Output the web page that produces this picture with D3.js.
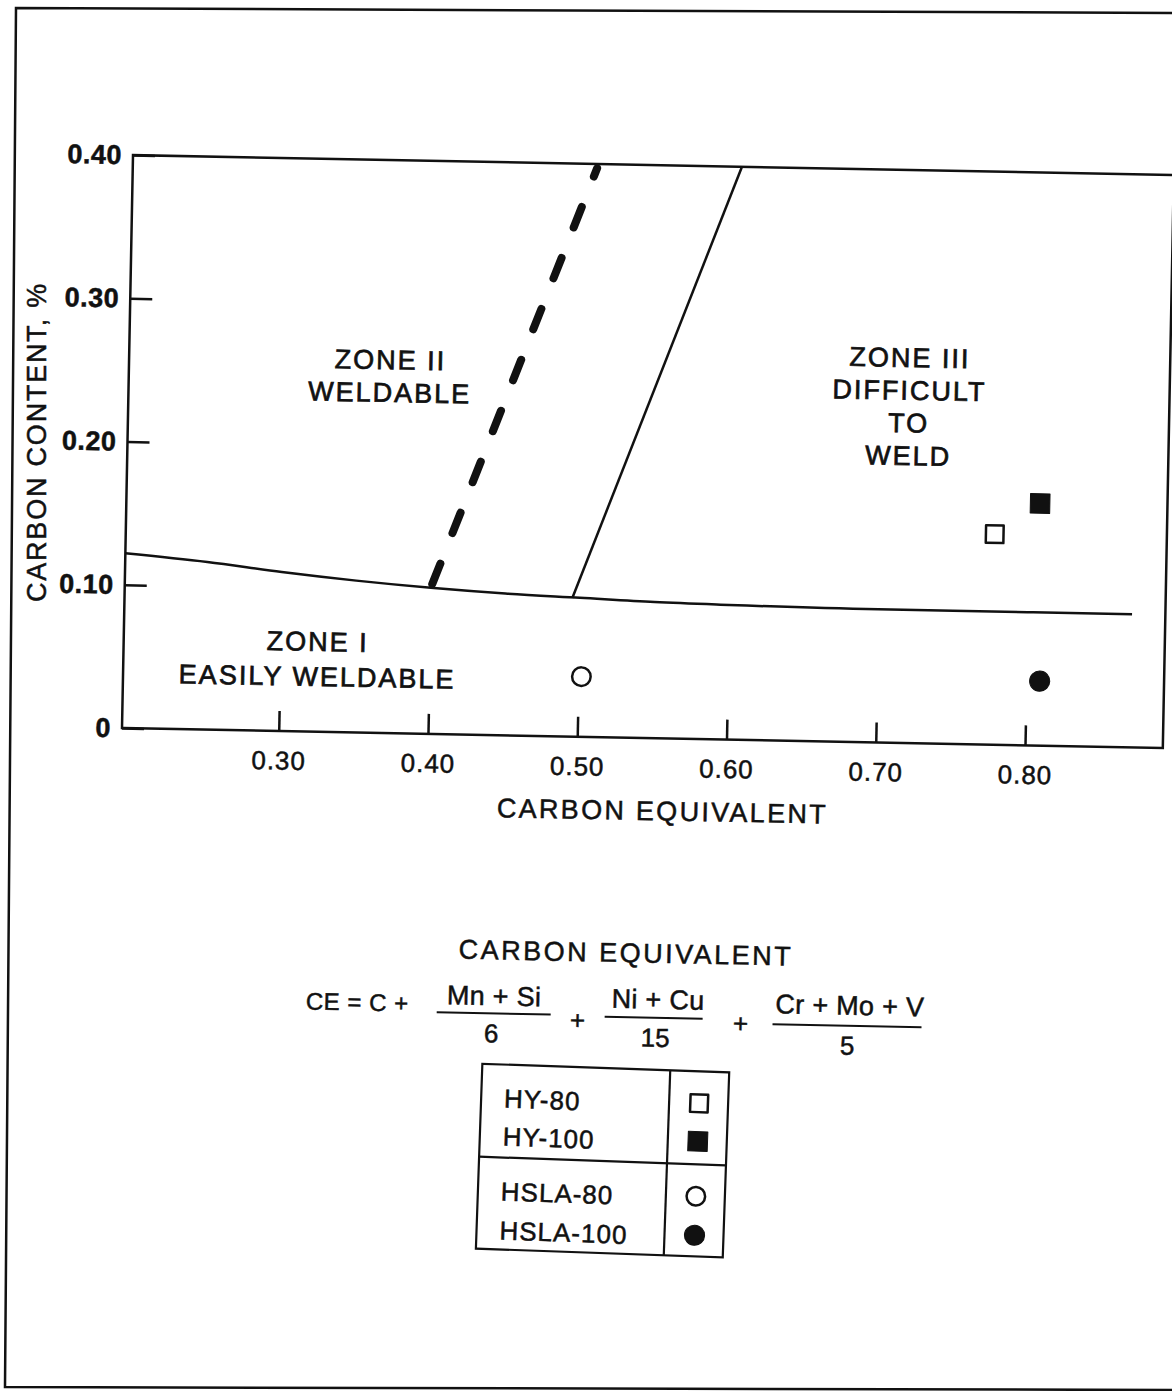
<!DOCTYPE html>
<html>
<head>
<meta charset="utf-8">
<script src="https://cdn.jsdelivr.net/npm/d3@7"></script>
<style>
  body { margin: 0; background: #fff; }
  svg { display: block; }
  text { font-family: "Liberation Sans", Arial, Helvetica, sans-serif; fill: #111; stroke: #111; stroke-width: 0.5px; }
</style>
</head>
<body>
<svg id="chart"></svg>
<script>
// Values
const xTicks = [0.30, 0.40, 0.50, 0.60, 0.70, 0.80];
const yTicks = [0, 0.10, 0.20, 0.30, 0.40];
const yTickLabels = ["0", "0.10", "0.20", "0.30", "0.40"];

// Zone I / Zone II boundary (carbon equivalent, carbon content)
const boundaryCE = [0.195, 0.25, 0.30, 0.35, 0.40, 0.45, 0.50, 0.55, 0.60, 0.70, 0.80, 0.87];
const boundaryC = [0.122, 0.117, 0.111, 0.106, 0.102, 0.099, 0.097, 0.095, 0.094, 0.093, 0.093, 0.093];

// heavy dashed line inside zone II
const dashedCE = [0.40, 0.506];
const dashedC = [0.102, 0.397];

// Zone II / Zone III boundary
const solidCE = [0.495, 0.603];
const solidC = [0.097, 0.40];

// steels
const steelNames = ["HY-80", "HY-100", "HSLA-80", "HSLA-100"];
const steelCE = [0.777, 0.807, 0.502, 0.809];
const steelC = [0.147, 0.169, 0.042, 0.045];

// zone labels
const zoneLines = [["ZONE II", "WELDABLE"], ["ZONE III", "DIFFICULT", "TO", "WELD"], ["ZONE I", "EASILY WELDABLE"]];
const zoneCE = [0.370, 0.718, 0.325];
const zoneC = [0.254, 0.2625, 0.0564];

const markerStyle = {
    "HY-80": { type: d3.symbolSquare, size: 310, filled: false },
    "HY-100": { type: d3.symbolSquare, size: 380, filled: true },
    "HSLA-80": { type: d3.symbolCircle, size: 270, filled: false },
    "HSLA-100": { type: d3.symbolCircle, size: 320, filled: true }
};

const ink = "#111";

const svg = d3.select("#chart")
    .attr("width", 1172)
    .attr("height", 1391);

svg.append("rect")
    .attr("width", 1172)
    .attr("height", 1391)
    .attr("fill", "#fff");

// border of the scanned page
svg.append("path")
    .attr("d", "M1172,13 L16,8 L5,1387 L1172,1390")
    .attr("fill", "none")
    .attr("stroke", ink)
    .attr("stroke-width", 2.5);

// Plot area (the scan is turned about a degree clockwise)
const W = 1041, H = 573;
const plot = svg.append("g")
    .attr("transform", "translate(122,728) rotate(1.1) translate(0," + (-H) + ")");

const x = d3.scaleLinear().domain([0.195, 0.895]).range([0, 1045]);
const y = d3.scaleLinear().domain([0, 0.40]).range([H, 0]);

plot.append("rect")
    .attr("width", W)
    .attr("height", H)
    .attr("fill", "none")
    .attr("stroke", ink)
    .attr("stroke-width", 2.5);

// X axis, ticks pointing inward
const xAxis = plot.append("g")
    .attr("transform", "translate(0," + H + ")")
    .call(d3.axisBottom(x)
        .tickValues(xTicks)
        .tickFormat(d3.format(".2f"))
        .tickSizeInner(-20)
        .tickSizeOuter(0)
        .tickPadding(20));
xAxis.select(".domain").remove();
xAxis.attr("font-family", null).attr("font-size", null);
xAxis.selectAll("line").attr("stroke", ink).attr("stroke-width", 2.5);
xAxis.selectAll("text")
    .attr("font-size", 26)
    .attr("letter-spacing", 1)
    .attr("fill", ink);

// Y axis
const yAxis = plot.append("g")
    .call(d3.axisLeft(y)
        .tickValues(yTicks)
        .tickFormat((d, i) => yTickLabels[i])
        .tickSizeInner(-22)
        .tickSizeOuter(0)
        .tickPadding(11));
yAxis.select(".domain").remove();
yAxis.attr("font-family", null).attr("font-size", null);
yAxis.selectAll("line").attr("stroke", ink).attr("stroke-width", 2.5);
yAxis.selectAll("text")
    .attr("font-size", 27)
    .attr("font-weight", "bold")
    .attr("letter-spacing", 0.5)
    .attr("fill", ink);

// axis titles
plot.append("text")
    .attr("x", x(0.558))
    .attr("y", H + 82)
    .attr("text-anchor", "middle")
    .attr("font-size", 27)
    .attr("letter-spacing", 2.3)
    .text("CARBON EQUIVALENT");

svg.append("text")
    .attr("transform", "translate(46,442) rotate(-90)")
    .attr("text-anchor", "middle")
    .attr("font-size", 27)
    .attr("letter-spacing", 1.8)
    .text("CARBON CONTENT, %");

// zone boundaries
const line = d3.line()
    .x(d => x(d[0]))
    .y(d => y(d[1]));

plot.append("path")
    .datum(d3.zip(boundaryCE, boundaryC))
    .attr("d", line.curve(d3.curveMonotoneX))
    .attr("fill", "none")
    .attr("stroke", ink)
    .attr("stroke-width", 2.5);

plot.append("path")
    .datum(d3.zip(solidCE, solidC))
    .attr("d", line.curve(d3.curveLinear))
    .attr("fill", "none")
    .attr("stroke", ink)
    .attr("stroke-width", 2.5);

const dashed = plot.append("path")
    .datum(d3.zip(dashedCE, dashedC))
    .attr("d", line.curve(d3.curveLinear))
    .attr("fill", "none")
    .attr("stroke", ink)
    .attr("stroke-width", 8)
    .attr("stroke-linecap", "round");
// ten dashes from the curve up to the top border
const dashLen = 22;
const total = dashed.node().getTotalLength();
const gapLen = (total - 8 - 10 * dashLen) / 9 + 8;
dashed.attr("stroke-dasharray", dashLen + "," + gapLen)
    .attr("stroke-dashoffset", -4);

// zone labels
zoneLines.forEach((lines, i) => {
    const t = plot.append("text")
        .attr("text-anchor", "middle")
        .attr("font-size", 27)
        .attr("letter-spacing", 2)
        .style("stroke-width", "0.7px")
        .attr("x", x(zoneCE[i]))
        .attr("y", y(zoneC[i]));
    lines.forEach((s, j) => {
        t.append("tspan")
            .attr("x", x(zoneCE[i]))
            .attr("dy", j === 0 ? 0 : (i === 2 ? 35 : 32.7))
            .text(s);
    });
});

// steel markers
const symbolPath = name => d3.symbol()
    .type(markerStyle[name].type)
    .size(markerStyle[name].size)();

plot.selectAll(".steel")
    .data(steelNames)
    .enter().append("path")
    .attr("class", "steel")
    .attr("transform", (d, i) => "translate(" + x(steelCE[i]) + "," + y(steelC[i]) + ")")
    .attr("d", d => symbolPath(d))
    .attr("fill", d => markerStyle[d].filled ? ink : "#fff")
    .attr("stroke", ink)
    .attr("stroke-width", d => markerStyle[d].filled ? 1 : 2.5)
    .attr("stroke-linejoin", "round");

// Carbon equivalent formula
const formula = svg.append("g")
    .attr("transform", "rotate(1.2,620,1000)");

formula.append("text")
    .attr("x", 625)
    .attr("y", 962)
    .attr("text-anchor", "middle")
    .attr("font-size", 27)
    .attr("letter-spacing", 2.5)
    .text("CARBON EQUIVALENT");

formula.append("text")
    .attr("x", 306)
    .attr("y", 1016)
    .attr("font-size", 24)
    .attr("letter-spacing", 0.5)
    .text("CE = C +");

const fractions = [
    { num: "Mn + Si", den: "6", cx: 494, x0: 437, x1: 551, base: 1008, bar: 1016 },
    { num: "Ni + Cu", den: "15", cx: 658, x0: 605, x1: 703, base: 1008, bar: 1017 },
    { num: "Cr + Mo + V", den: "5", cx: 850, x0: 773, x1: 922, base: 1010, bar: 1021 }
];
fractions.forEach(f => {
    formula.append("text")
        .attr("x", f.cx)
        .attr("y", f.base)
        .attr("text-anchor", "middle")
        .attr("font-size", 27)
        .attr("letter-spacing", 0.3)
        .text(f.num);
    formula.append("line")
        .attr("x1", f.x0).attr("x2", f.x1)
        .attr("y1", f.bar).attr("y2", f.bar)
        .attr("stroke", ink)
        .attr("stroke-width", 2);
    formula.append("text")
        .attr("x", f.cx - 2)
        .attr("y", f.bar + 29)
        .attr("text-anchor", "middle")
        .attr("font-size", 26)
        .text(f.den);
});
[578, 741].forEach(px => {
    formula.append("text")
        .attr("x", px)
        .attr("y", 1030)
        .attr("text-anchor", "middle")
        .attr("font-size", 26)
        .text("+");
});

// Legend box
const legend = svg.append("g")
    .attr("transform", "rotate(2,602,1162)");

legend.append("rect")
    .attr("x", 479).attr("y", 1068)
    .attr("width", 247).attr("height", 185)
    .attr("fill", "none")
    .attr("stroke", ink)
    .attr("stroke-width", 2.2);
legend.append("line")
    .attr("x1", 667).attr("x2", 667)
    .attr("y1", 1068).attr("y2", 1253)
    .attr("stroke", ink).attr("stroke-width", 2.2);
legend.append("line")
    .attr("x1", 479).attr("x2", 726)
    .attr("y1", 1161).attr("y2", 1161)
    .attr("stroke", ink).attr("stroke-width", 2.2);

const rowBase = [1111, 1149, 1204, 1243];
legend.selectAll(".leg-label")
    .data(steelNames)
    .enter().append("text")
    .attr("class", "leg-label")
    .attr("x", 502)
    .attr("y", (d, i) => rowBase[i])
    .attr("font-size", 26)
    .attr("letter-spacing", 1)
    .text(d => d);

legend.selectAll(".leg-mark")
    .data(steelNames)
    .enter().append("path")
    .attr("class", "leg-mark")
    .attr("transform", (d, i) => "translate(697," + (rowBase[i] - 11) + ")")
    .attr("d", d => symbolPath(d))
    .attr("fill", d => markerStyle[d].filled ? ink : "#fff")
    .attr("stroke", ink)
    .attr("stroke-width", d => markerStyle[d].filled ? 1 : 2.5)
    .attr("stroke-linejoin", "round");
</script>
</body>
</html>
